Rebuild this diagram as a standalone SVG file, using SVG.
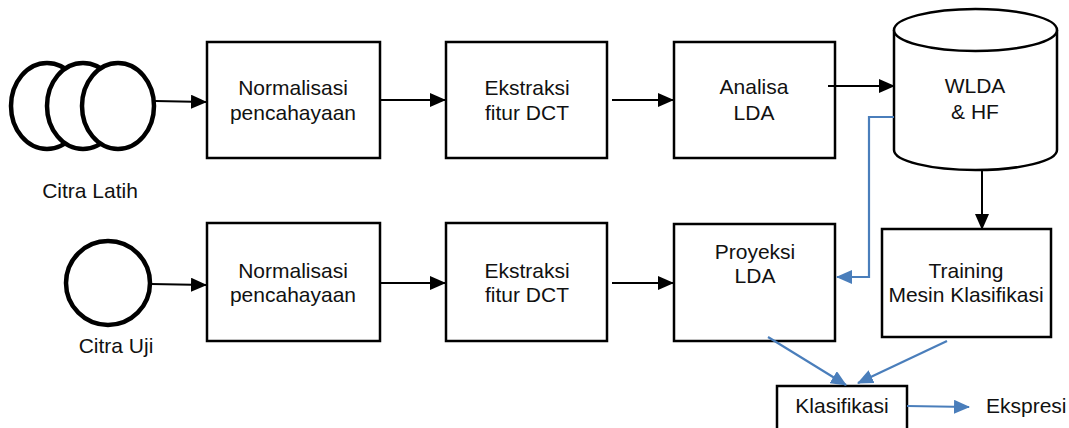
<svg xmlns="http://www.w3.org/2000/svg" width="1069" height="428" viewBox="0 0 1069 428">
<style>
.box{fill:#fff;stroke:#000;stroke-width:2.5}
.t{font-family:"Liberation Sans",Arial,sans-serif;font-size:21px;fill:#111;text-anchor:middle}
.k{stroke:#000;stroke-width:2;fill:none}
.b{stroke:#4a7ebb;stroke-width:2.2;fill:none}
.ring{fill:#fff;stroke:#000;stroke-width:4.5}
</style>
<defs>
<marker id="ak" markerUnits="userSpaceOnUse" markerWidth="16" markerHeight="14" refX="15" refY="7" orient="auto"><path d="M0,0 L16,7 L0,14 Z" fill="#000"/></marker>
<marker id="ab" markerUnits="userSpaceOnUse" markerWidth="16" markerHeight="14" refX="15" refY="7" orient="auto"><path d="M0,0 L16,7 L0,14 Z" fill="#4a7ebb"/></marker>
</defs>
<rect width="1069" height="428" fill="#fff"/>
<g id="citra-latih">
<ellipse class="ring" cx="47" cy="106" rx="36" ry="43"/>
<ellipse class="ring" cx="83" cy="106" rx="36" ry="43"/>
<ellipse class="ring" cx="118" cy="106" rx="36" ry="43"/>
<text class="t" x="90" y="198">Citra Latih</text>
</g>
<g id="citra-uji">
<circle class="ring" cx="108" cy="283" r="42"/>
<text class="t" x="116" y="353">Citra Uji</text>
</g>
<g id="norm1"><rect class="box" x="207" y="42" width="173" height="116"/><text class="t" x="293" y="95">Normalisasi</text><text class="t" x="293" y="120">pencahayaan</text></g>
<g id="dct1"><rect class="box" x="446" y="42" width="161" height="116"/><text class="t" x="527" y="95">Ekstraksi</text><text class="t" x="527" y="120">fitur DCT</text></g>
<g id="lda"><rect class="box" x="674" y="42" width="161" height="116"/><text class="t" x="754" y="94">Analisa</text><text class="t" x="754" y="120">LDA</text></g>
<g id="wlda">
<path d="M894,30 L894,150 A81.5,20 0 0 0 1057,150 L1057,30" fill="#fff" stroke="#000" stroke-width="2.5"/>
<ellipse cx="975.5" cy="30" rx="81.5" ry="21" fill="#fff" stroke="#000" stroke-width="2.5"/>
<text class="t" x="975" y="93">WLDA</text><text class="t" x="975" y="119">&amp; HF</text>
</g>
<g id="norm2"><rect class="box" x="207" y="223" width="173" height="118"/><text class="t" x="293" y="278">Normalisasi</text><text class="t" x="293" y="302">pencahayaan</text></g>
<g id="dct2"><rect class="box" x="446" y="223" width="161" height="118"/><text class="t" x="527" y="278">Ekstraksi</text><text class="t" x="527" y="302">fitur DCT</text></g>
<g id="proyeksi"><rect class="box" x="674" y="224" width="161" height="117"/><text class="t" x="755" y="259">Proyeksi</text><text class="t" x="755" y="283">LDA</text></g>
<g id="training"><rect class="box" x="882" y="229" width="169" height="108"/><text class="t" x="966" y="278">Training</text><text class="t" x="966" y="302">Mesin Klasifikasi</text></g>
<g id="klasifikasi"><rect class="box" x="777" y="386" width="130" height="46"/><text class="t" x="842" y="413">Klasifikasi</text></g>
<g id="ekspresi"><text class="t" x="986" y="413" style="text-anchor:start">Ekspresi</text></g>
<g id="connectors">
<line class="k" x1="155" y1="101" x2="206" y2="102" marker-end="url(#ak)"/>
<line class="k" x1="151" y1="284" x2="206" y2="285" marker-end="url(#ak)"/>
<line class="k" x1="381" y1="100" x2="445" y2="100" marker-end="url(#ak)"/>
<line class="k" x1="612" y1="100" x2="673" y2="100" marker-end="url(#ak)"/>
<line class="k" x1="828" y1="86" x2="894" y2="86" marker-end="url(#ak)"/>
<line class="k" x1="381" y1="283" x2="445" y2="283" marker-end="url(#ak)"/>
<line class="k" x1="612" y1="283" x2="673" y2="283" marker-end="url(#ak)"/>
<line class="k" x1="982" y1="170" x2="982" y2="229" marker-end="url(#ak)"/>
<polyline class="b" points="894,117 869,117 869,277 837,277" marker-end="url(#ab)"/>
<line class="b" x1="768" y1="337" x2="846" y2="385" marker-end="url(#ab)"/>
<line class="b" x1="947" y1="341" x2="858" y2="383" marker-end="url(#ab)"/>
<line class="b" x1="907" y1="406" x2="969" y2="407" marker-end="url(#ab)"/>
</g>
</svg>
